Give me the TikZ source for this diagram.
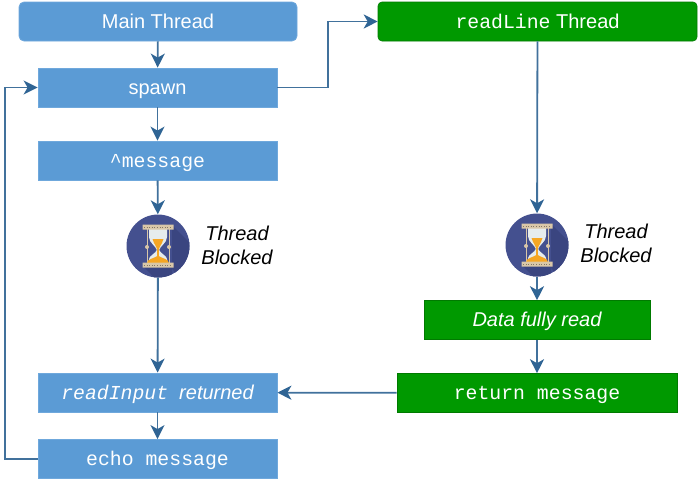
\documentclass[tikz,border=0pt]{standalone}
\usepackage{fontspec}
\setmainfont{Liberation Sans}
\setmonofont{Liberation Mono}
\usetikzlibrary{arrows.meta,calc}
\definecolor{bluebox}{HTML}{5B9BD5}
\definecolor{blueedge}{HTML}{6FA8DC}
\definecolor{greenbox}{HTML}{009900}
\definecolor{link}{HTML}{41719C}
\definecolor{linkhead}{HTML}{2F6494}
\definecolor{glassbg}{HTML}{44508F}
\definecolor{glassshade}{HTML}{3A4580}
\definecolor{sand}{HTML}{F5A623}
\definecolor{glass}{HTML}{E6ECEC}
\definecolor{frame}{HTML}{D9C7A8}
\tikzset{
  x=1pt,y=-1pt,
  boxbase/.style={anchor=center,inner sep=0pt,text=white,text height=13pt,text depth=0pt,font=\fontsize{20}{22}\selectfont},
  bluerect/.style={boxbase,fill=bluebox,draw=blueedge,line width=0.8pt},
  greenrect/.style={boxbase,fill=greenbox,draw=greenbox!80!black,line width=0.6pt},
  code/.style={font=\fontsize{19.8}{22}\ttfamily},
  conn/.style={draw=link,line width=1.8pt,-{Stealth[length=14pt,width=14pt,inset=4pt,color=linkhead]}},
  blocklabel/.style={align=center,inner sep=0pt,font=\fontsize{20}{24}\selectfont\itshape,text=black},
  hourbase/.style={circle,fill=glassbg,minimum size=63pt,inner sep=0pt},
}
\newcommand{\hourglass}[2]{%
  \begin{scope}[shift={(#1,#2)}]
    \begin{scope}
      \clip (0,0) circle (31.5);
      \fill[glassshade] (14,-21) -- (40,5) -- (40,40) -- (14,40) -- (14,21) -- (-14,21) -- (14,50) -- (30,50) -- (14,22) -- cycle;
    \end{scope}
    \draw[frame,line width=1pt] (-11,-17) -- (-11,17) (11,-17) -- (11,17);
    \fill[frame] (-11,1) circle (2) (11,1) circle (2);
    \fill[glass] (-9,-17) -- (9,-17) -- (9,-9) .. controls (9,-3) and (2,0) .. (1.2,4)
       .. controls (2,7) and (9,10) .. (9,13) -- (9,17) -- (-9,17) -- (-9,13)
       .. controls (-9,10) and (-2,7) .. (-1.2,4) .. controls (-2,0) and (-9,-3) .. (-9,-9) -- cycle;
    \fill[sand] (-5.5,-7) -- (5.5,-7) .. controls (4,-2) and (1.2,1) .. (0.8,4) -- (0.8,10)
       .. controls (3,12) and (11,13) .. (11,17) -- (-11,17) .. controls (-11,13) and (-3,12) .. (-0.8,10) -- (-0.8,4)
       .. controls (-1.2,1) and (-4,-2) .. (-5.5,-7) -- cycle;
    \fill[frame] (-15.5,-21.5) rectangle (15.5,-16.5) (-15.5,16.5) rectangle (15.5,21.5);
    \draw[frame!60!black,line width=0.6pt,dotted] (-14,-19) -- (14,-19) (-14,19) -- (14,19);
  \end{scope}}
\begin{document}
\begin{tikzpicture}
\useasboundingbox (0,0) rectangle (700,483);
\node[bluerect,rounded corners=5pt,minimum width=278pt,minimum height=39pt] (main) at (158,21.5) {Main Thread};
\node[bluerect,minimum width=239pt,minimum height=39pt] (spawn) at (157.5,87.5) {spawn};
\node[bluerect,code,minimum width=239pt,minimum height=39pt] (msg) at (157.5,160.5) {\^{}message};
\node[hourbase] (hg1) at (158,246) {};
\hourglass{158}{246}
\node[blocklabel] (tb1) at (237,245) {Thread\\Blocked};
\node[bluerect,minimum width=239pt,minimum height=39pt] (ri) at (157.5,392.5) {{\fontsize{19.8}{22}\ttfamily\itshape readInput}\hspace{11pt}{\itshape returned}};
\node[bluerect,code,minimum width=239pt,minimum height=39pt] (echo) at (157.5,459) {echo message};
\node[greenrect,rounded corners=4pt,minimum width=319pt,minimum height=39pt] (rl) at (537.5,21.5) {{\fontsize{19.8}{22}\ttfamily readLine} Thread};
\node[hourbase] (hg2) at (537,245) {};
\hourglass{537}{245}
\node[blocklabel] (tb2) at (616,243.5) {Thread\\Blocked};
\node[greenrect,minimum width=226pt,minimum height=39pt] (data) at (537,320) {\itshape Data fully read};
\node[greenrect,code,minimum width=280pt,minimum height=39pt] (ret) at (537,393) {return message};
\coordinate (leftrail) at (5,0);
\coordinate (midrail) at (328,0);
\draw[conn] (main) -- (spawn);
\draw[conn] (spawn) -- (msg);
\draw[conn] (msg) -- (hg1);
\draw[conn] (hg1) -- (ri);
\draw[conn] (ri) -- (echo);
\draw[conn] (rl) -- (hg2);
\draw[conn] (hg2) -- (data);
\draw[conn] (data) -- (ret);
\draw[conn] (ret) -- (ri);
\draw[conn] (spawn.east) -| (midrail |- rl.west) -- (rl.west);
\draw[conn] (echo.west) -| (leftrail |- spawn.west) -- (spawn.west);
\end{tikzpicture}
\end{document}
